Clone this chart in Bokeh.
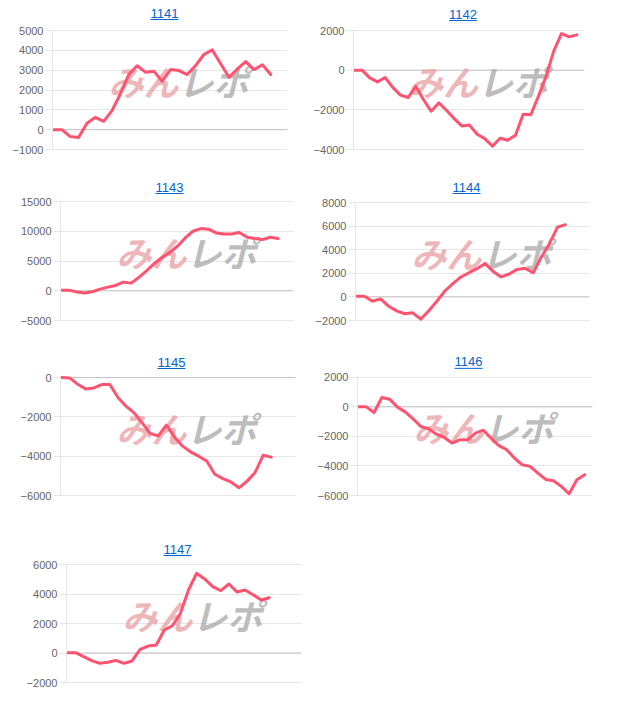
from bokeh.plotting import figure
from bokeh.layouts import column, row
from bokeh.models import Range1d, FixedTicker, Label, Span
from bokeh.core.properties import value
from bokeh.embed import file_html
from bokeh.resources import INLINE

# ---------------- data ----------------
titles = ["1141", "1142", "1143", "1144", "1145", "1146", "1147"]

s1141 = [0, 0, -350, -400, 320, 620, 420, 960, 1800, 2780, 3220, 2900, 2950, 2440,
         3030, 2980, 2780, 3230, 3790, 4020, 3320, 2640, 3060, 3430, 3030, 3270, 2780]
s1142 = [0, 0, -390, -590, -370, -870, -1260, -1380, -810, -1480, -2070, -1650, -2020,
         -2440, -2810, -2770, -3230, -3450, -3830, -3430, -3530, -3280, -2220, -2250,
         -1310, -300, 970, 1840, 1680, 1780]
s1143 = [100, 100, -220, -390, -170, 280, 610, 890, 1450, 1280, 2230, 3350, 4580, 5590,
         6420, 7480, 8880, 10000, 10450, 10340, 9720, 9550, 9550, 9780, 8990, 8770, 8600,
         9000, 8770]
s1144 = [50, 50, -370, -170, -790, -1180, -1430, -1350, -1880, -1180, -370, 500, 1120,
         1690, 2050, 2390, 2840, 2160, 1690, 1940, 2330, 2420, 2050, 3370, 4490, 5900, 6120]
s1145 = [0, -20, -340, -580, -530, -360, -360, -1020, -1460, -1800, -2310, -2850, -2970,
         -2420, -3020, -3490, -3780, -4000, -4250, -4920, -5140, -5310, -5610, -5270,
         -4830, -3950, -4050]
s1146 = [0, 0, -380, 630, 520, -20, -340, -810, -1330, -1490, -1850, -2070, -2450, -2230,
         -2230, -1780, -1580, -2120, -2630, -2900, -3470, -3920, -4030, -4480, -4910,
         -5000, -5380, -5880, -4930, -4590]
s1147 = [20, 20, -250, -520, -700, -630, -500, -700, -540, 250, 470, 540, 1560, 1850,
         2690, 4270, 5400, 5020, 4500, 4230, 4680, 4140, 4270, 3950, 3590, 3750]

yt1141 = [-1000, 0, 1000, 2000, 3000, 4000, 5000]
yt1142 = [-4000, -2000, 0, 2000]
yt1143 = [-5000, 0, 5000, 10000, 15000]
yt1144 = [-2000, 0, 2000, 4000, 6000, 8000]
yt1145 = [-6000, -4000, -2000, 0]
yt1146 = [-6000, -4000, -2000, 0, 2000]
yt1147 = [-2000, 0, 2000, 4000, 6000]

# number of x categories in each chart (points occupy the first ones)
n_labels = [29, 31, 31, 30, 30, 31, 30]

series = [s1141, s1142, s1143, s1144, s1145, s1146, s1147]
yticks = [yt1141, yt1142, yt1143, yt1144, yt1145, yt1146, yt1147]

# ---------------- geometry (page pixels) ----------------
# cell x0, cell y0, cell height, frame left, frame right, top tick, bottom tick,
# title centre x, title baseline y
geom = [
    (0, 0, 170, 52, 287, 30, 149, 164, 17),
    (310, 0, 170, 350, 584, 30, 149, 461, 18),
    (0, 170, 175, 60, 293, 201, 320, 169, 191),
    (310, 170, 175, 355, 589, 202, 320, 466, 191),
    (0, 345, 185, 60, 295, 377, 495, 171, 366),
    (310, 345, 185, 357, 592, 377, 496, 468, 366),
    (0, 530, 177, 66, 301, 564, 682, 177, 553),
]

LINE_COLOR = "#ff5470"
GRID = "#e6e6e6"


def make(i):
    x0, y0, H, L, R, T, B, tcx, tby = geom[i]
    ticks = yticks[i]
    ymin, ymax = ticks[0], ticks[-1]
    k = (ymax - ymin) / (B - T)
    xs0, xs1 = -0.12, n_labels[i] - 1
    dx = (xs1 - xs0) / (R - L)

    def px2x(px):
        return xs0 + (px - L) * dx

    def py2y(py):
        return ymax - (py - T) * k

    p = figure(width=310, height=H, output_backend="svg", toolbar_location=None,
               title=None, x_axis_type=None,
               x_range=Range1d(xs0, xs1), y_range=Range1d(py2y(B + 1), py2y(y0)),
               min_border_left=L - x0, min_border_right=x0 + 310 - R,
               min_border_top=0, min_border_bottom=y0 + H - (B + 1))
    p.outline_line_color = None
    p.background_fill_color = "white"
    p.border_fill_color = "white"

    ax = p.yaxis[0]
    ax.ticker = FixedTicker(ticks=ticks)
    ax.bounds = (ymin, ymax)
    ax.axis_line_color = GRID
    ax.major_tick_line_color = GRID
    ax.major_tick_out = 7
    ax.major_tick_in = 0
    ax.minor_tick_line_color = None
    ax.major_label_text_font = "Liberation Sans"
    ax.major_label_text_font_size = "11px"
    ax.major_label_text_color = "#666666"
    ax.major_label_standoff = 2

    for g in p.ygrid:
        g.ticker = FixedTicker(ticks=ticks)
        g.grid_line_color = GRID
    for g in p.xgrid:
        g.grid_line_color = None

    p.add_layout(Span(location=0, dimension="width", line_color="#c4c4c4",
                      line_width=1, level="underlay"))

    # watermark
    wx = px2x(L + 126)
    wy = py2y(T + 50)
    p.text(x=[wx], y=[wy], text=["みん"], text_align="right", text_baseline="middle",
           text_font=value("Noto Sans CJK JP"), text_font_style="bold italic",
           text_font_size="35px", text_color="#e7a0a4", text_alpha=0.75)
    p.text(x=[wx], y=[wy], text=["レポ"], text_align="left", text_baseline="middle",
           text_font=value("Noto Sans CJK JP"), text_font_style="bold italic",
           text_font_size="35px", text_color="#a8a8a8", text_alpha=0.75)

    ys = series[i]
    xs = list(range(len(ys)))
    p.line(xs, ys, line_color=LINE_COLOR, line_width=3, line_join="round", line_cap="round")

    # title (link style): digits centred 4.5px above baseline
    p.add_layout(Label(x=px2x(tcx), y=py2y(tby - 4.5), text=titles[i], text_align="center",
                       text_baseline="middle", text_font="Liberation Sans",
                       text_font_size="13px", text_color="#0066cc"))
    p.segment(x0=[px2x(tcx - 14)], y0=[py2y(tby + 2)], x1=[px2x(tcx + 14)],
              y1=[py2y(tby + 2)], line_color="#0066cc", line_width=1)
    return p


figs = [make(i) for i in range(7)]
layout = column(row(figs[0], figs[1]), row(figs[2], figs[3]),
                row(figs[4], figs[5]), row(figs[6]))

open("out.html", "w").write(file_html(layout, INLINE))
